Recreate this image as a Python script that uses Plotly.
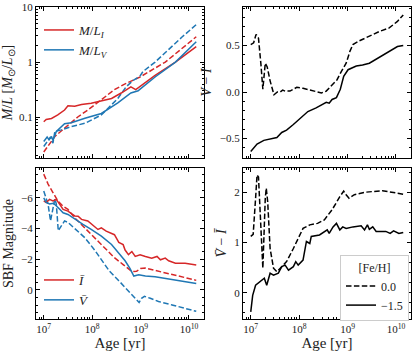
import numpy as np
import plotly.graph_objects as go

# ages are stored as log10(age / yr)

# top left: mass-to-light ratio
ml_i_fe15_age = [7.0, 7.05, 7.16, 7.29, 7.43, 7.50, 7.64, 7.78, 7.98, 8.19, 8.40, 8.60,
                 8.80, 8.90, 8.99, 9.30, 9.72, 10.15]
ml_i_fe15 = [0.083, 0.091, 0.095, 0.110, 0.135, 0.162, 0.158, 0.170, 0.180, 0.200, 0.219,
             0.275, 0.355, 0.316, 0.363, 0.575, 1.00, 1.91]
ml_v_fe15_age = [7.0, 7.07, 7.11, 7.16, 7.19, 7.26, 7.43, 7.57, 7.85, 8.19, 8.53, 8.80,
                 8.95, 8.99, 9.30, 9.72, 10.15]
ml_v_fe15 = [0.0363, 0.0437, 0.0389, 0.0447, 0.038, 0.055, 0.0759, 0.0794, 0.0955, 0.117,
             0.182, 0.275, 0.302, 0.324, 0.537, 1.00, 2.34]
ml_i_fe00_age = [7.0, 7.09, 7.23, 7.36, 7.50, 7.71, 7.91, 8.19, 8.46, 8.67, 8.85, 8.99,
                 9.51, 10.15]
ml_i_fe00 = [0.0234, 0.0302, 0.0447, 0.0562, 0.0724, 0.102, 0.135, 0.207, 0.316, 0.398,
             0.479, 0.537, 1.00, 2.88]
ml_v_fe00_age = [7.0, 7.09, 7.14, 7.19, 7.23, 7.36, 7.57, 7.85, 8.19, 8.53, 8.70, 8.85,
                 8.99, 9.05, 9.30, 9.85, 10.15]
ml_v_fe00 = [0.0295, 0.0389, 0.0437, 0.0339, 0.055, 0.0589, 0.0676, 0.0776, 0.110, 0.219,
             0.355, 0.468, 0.562, 0.676, 1.00, 2.82, 4.79]

# top right: V - I colour
vi_fe00_age = [7.0, 7.06, 7.11, 7.16, 7.21, 7.25, 7.30, 7.34, 7.40, 7.48, 7.55, 7.61, 7.66,
               7.71, 7.81, 7.95, 8.08, 8.22, 8.35, 8.46, 8.56, 8.68, 8.78, 8.87, 8.97, 9.05,
               9.11, 9.24, 9.45, 9.65, 9.86, 10.03, 10.15]
vi_fe00 = [0.51, 0.53, 0.62, 0.58, 0.30, 0.03, 0.31, 0.27, 0.12, -0.03, 0.0, 0.0, 0.02,
           0.01, 0.01, 0.05, 0.04, 0.02, 0.0, -0.01, 0.01, 0.07, 0.13, 0.22, 0.31, 0.44,
           0.51, 0.55, 0.60, 0.65, 0.69, 0.76, 0.83]
vi_fe15_age = [7.0, 7.13, 7.27, 7.37, 7.43, 7.54, 7.64, 7.74, 7.88, 8.01, 8.18, 8.35, 8.56,
               8.62, 8.68, 8.77, 8.85, 8.92, 9.01, 9.18, 9.31, 9.45, 9.65, 9.86, 10.03, 10.15]
vi_fe15 = [-0.64, -0.56, -0.52, -0.51, -0.50, -0.49, -0.435, -0.41, -0.35, -0.29, -0.21,
           -0.17, -0.11, -0.12, -0.08, -0.06, 0.03, 0.17, 0.24, 0.28, 0.29, 0.31, 0.37,
           0.44, 0.49, 0.50]

# bottom left: SBF magnitudes
sbf_i_fe00_age = [7.0, 7.09, 7.19, 7.29, 7.40, 7.50, 7.64, 7.85, 8.05, 8.26, 8.46, 8.64,
                  8.82, 8.92, 9.0, 9.10, 9.37, 9.65, 9.92, 10.15]
sbf_i_fe00 = [-7.55, -6.9, -6.35, -5.8, -5.45, -5.25, -4.7, -4.05, -3.4, -2.75, -2.1, -1.65,
              -1.2, -1.22, -1.4, -1.42, -1.2, -0.98, -0.80, -0.62]
sbf_i_fe15_age = [7.0, 7.05, 7.12, 7.19, 7.26, 7.33, 7.40, 7.50, 7.64, 7.71, 7.78, 7.91,
                  8.05, 8.12, 8.19, 8.29, 8.46, 8.55, 8.64, 8.68, 8.75, 8.82, 8.89, 8.99,
                  9.10, 9.23, 9.34, 9.41, 9.51, 9.58, 9.72, 9.92, 10.15]
sbf_i_fe15 = [-5.8, -5.7, -5.9, -5.8, -5.9, -5.58, -5.25, -5.14, -4.82, -4.8, -4.6, -4.49,
              -4.16, -3.94, -4.05, -3.83, -3.6, -3.1, -2.95, -2.6, -2.3, -2.5, -2.18, -2.29,
              -2.18, -2.07, -2.18, -1.96, -2.07, -1.9, -1.74, -1.74, -1.63]
sbf_v_fe15_age = [7.0, 7.05, 7.12, 7.20, 7.30, 7.40, 7.50, 7.64, 7.81, 7.98, 8.19, 8.40,
                  8.55, 8.68, 8.78, 8.86, 8.96, 9.10, 9.30, 9.58, 9.92, 10.15]
sbf_v_fe15 = [-6.0, -5.7, -5.6, -5.65, -5.36, -5.03, -4.92, -4.6, -4.27, -3.94, -3.51, -2.96,
              -2.4, -1.9, -1.4, -0.9, -0.98, -0.9, -0.85, -0.7, -0.54, -0.42]
sbf_v_fe00_age = [7.0, 7.05, 7.09, 7.14, 7.19, 7.23, 7.26, 7.30, 7.36, 7.43, 7.50, 7.57,
                  7.64, 7.85, 8.05, 8.20, 8.35, 8.55, 8.70, 8.85, 8.97, 9.02, 9.08, 9.20,
                  9.37, 9.65, 9.92, 10.15]
sbf_v_fe00 = [-6.45, -6.0, -5.58, -4.5, -5.3, -5.95, -5.6, -3.85, -4.16, -4.5, -4.4, -4.2,
              -3.94, -3.4, -2.6, -1.9, -1.25, -0.6, -0.1, 0.4, 0.82, 0.55, 0.42, 0.55,
              0.76, 0.98, 1.2, 1.4]

# bottom right: fluctuation colour
fvi_fe00_age = [7.0, 7.05, 7.10, 7.13, 7.16, 7.21, 7.25, 7.30, 7.32, 7.35, 7.40, 7.47, 7.54,
                7.64, 7.74, 7.88, 8.01, 8.08, 8.22, 8.38, 8.52, 8.68, 8.84, 8.92, 8.97, 9.03,
                9.14, 9.38, 9.72, 10.0, 10.15]
fvi_fe00 = [1.12, 1.16, 1.88, 2.34, 2.30, 1.21, 0.49, 1.88, 2.08, 1.81, 0.88, 0.49, 0.42,
            0.52, 0.62, 0.88, 1.15, 1.28, 1.35, 1.38, 1.45, 1.65, 1.91, 2.02, 1.95, 1.88,
            1.95, 2.0, 2.03, 1.98, 1.96]
fvi_fe15_age = [7.0, 7.04, 7.10, 7.20, 7.28, 7.33, 7.40, 7.47, 7.57, 7.64, 7.71, 7.78, 7.88,
                7.93, 7.98, 8.08, 8.11, 8.15, 8.22, 8.25, 8.42, 8.52, 8.58, 8.62, 8.70, 8.77,
                8.84, 8.90, 8.97, 9.11, 9.28, 9.35, 9.41, 9.45, 9.52, 9.59, 9.79, 9.88, 9.95,
                10.06, 10.15]
fvi_fe15 = [-0.38, -0.05, 0.15, 0.22, 0.29, 0.15, 0.39, 0.35, 0.39, 0.52, 0.55, 0.45, 0.52,
            0.62, 0.55, 0.65, 0.82, 1.02, 0.98, 1.12, 1.15, 1.22, 1.25, 1.18, 1.31, 1.38,
            1.25, 1.31, 1.28, 1.31, 1.33, 1.25, 1.35, 1.26, 1.31, 1.22, 1.22, 1.18, 1.23,
            1.18, 1.2]

RED = "#d62728"
BLUE = "#1f77b4"
FONT = "Liberation Serif"
DASH = "5.5px,2.4px"

fig = go.Figure()


def add_line(age, values, color, dash, panel, name=None, legend="legend"):
    fig.add_trace(
        go.Scatter(
            x=10 ** np.array(age),
            y=values,
            mode="lines",
            line={"color": color, "width": 1.5, "dash": dash},
            xaxis="x" + panel,
            yaxis="y" + panel,
            name=name,
            showlegend=name is not None,
            legend=legend,
        )
    )


add_line(ml_i_fe00_age, ml_i_fe00, RED, DASH, "")
add_line(ml_v_fe00_age, ml_v_fe00, BLUE, DASH, "")
add_line(ml_i_fe15_age, ml_i_fe15, RED, "solid", "", "<i>M</i>/<i>L<sub>I</sub></i>")
add_line(ml_v_fe15_age, ml_v_fe15, BLUE, "solid", "", "<i>M</i>/<i>L<sub>V</sub></i>")

add_line(vi_fe00_age, vi_fe00, "black", DASH, "2")
add_line(vi_fe15_age, vi_fe15, "black", "solid", "2")

add_line(sbf_i_fe00_age, sbf_i_fe00, RED, DASH, "3")
add_line(sbf_v_fe00_age, sbf_v_fe00, BLUE, DASH, "3")
add_line(sbf_i_fe15_age, sbf_i_fe15, RED, "solid", "3", "<i>Ī</i>", "legend2")
add_line(sbf_v_fe15_age, sbf_v_fe15, BLUE, "solid", "3", "<i>V̄</i>", "legend2")

add_line(fvi_fe00_age, fvi_fe00, "black", DASH, "4", "0.0", "legend3")
add_line(fvi_fe15_age, fvi_fe15, "black", "solid", "4", "−1.5", "legend3")

W, H = 415, 356
left_dom = [36 / W, 204 / W]
right_dom = [243 / W, 411 / W]
top_dom = [1 - 158 / H, 1 - 7 / H]
bot_dom = [1 - 319 / H, 1 - 168 / H]

decades = [1e7, 1e8, 1e9, 1e10]
minor_age = [k * 10.0 ** e for e in range(6, 11) for k in range(2, 10)]
minor_ml = [k * 10.0 ** e for e in range(-2, 1) for k in range(2, 10)]

frame = dict(
    showline=True, linecolor="black", linewidth=1, mirror="ticks",
    ticks="inside", ticklen=4, tickcolor="black", tickwidth=0.8,
    showgrid=False, zeroline=False, automargin=False,
    tickfont=dict(family=FONT, size=11, color="#222222"),
)


def age_axis(domain, anchor, labels):
    return dict(
        frame, type="log", domain=domain, anchor=anchor, range=[6.84, 10.31],
        tickvals=decades,
        ticktext=["10<sup>%d</sup>" % e for e in range(7, 11)] if labels else ["", "", "", ""],
        minor=dict(tickvals=minor_age, ticks="inside", ticklen=2, tickcolor="black"),
        title=dict(text="Age [yr]" if labels else "",
                   font=dict(family=FONT, size=15, color="#222222"), standoff=2),
    )


title_font = dict(family=FONT, size=14, color="#222222")

fig.update_layout(
    width=W, height=H,
    margin=dict(l=0, r=0, t=0, b=0),
    paper_bgcolor="white", plot_bgcolor="white",
    font=dict(family=FONT, color="#222222"),
    xaxis=age_axis(left_dom, "y", False),
    xaxis2=age_axis(right_dom, "y2", False),
    xaxis3=age_axis(left_dom, "y3", True),
    xaxis4=age_axis(right_dom, "y4", True),
    yaxis=dict(
        frame, type="log", domain=top_dom, anchor="x", range=[-1.74, 1.0],
        tickvals=[0.1, 1, 10], ticktext=["0.1", "1", "10"],
        minor=dict(tickvals=minor_ml, ticks="inside", ticklen=2, tickcolor="black"),
        title=dict(text="<i>M</i>/<i>L</i> [<i>M</i><sub>⊙</sub>/<i>L</i><sub>⊙</sub>]",
                   font=title_font, standoff=4),
    ),
    yaxis2=dict(
        frame, domain=top_dom, anchor="x2", range=[-0.71, 0.915],
        tickvals=[-0.5, 0.0, 0.5], ticktext=["−0.5", "0.0", "0.5"],
        minor=dict(dtick=0.1, ticks="inside", ticklen=2, tickcolor="black"),
        title=dict(text="<i>V</i> − <i>I</i>", font=title_font, standoff=4),
    ),
    yaxis3=dict(
        frame, domain=bot_dom, anchor="x3", range=[1.9, -7.95],
        tickvals=[-6, -4, -2, 0],
        minor=dict(dtick=0.5, ticks="inside", ticklen=2, tickcolor="black"),
        title=dict(text="SBF Magnitude", font=title_font, standoff=4),
    ),
    yaxis4=dict(
        frame, domain=bot_dom, anchor="x4", range=[-0.52, 2.48],
        tickvals=[0, 1, 2],
        minor=dict(dtick=0.2, ticks="inside", ticklen=2, tickcolor="black"),
        title=dict(text="<i>V̄</i> − <i>Ī</i>", font=title_font, standoff=4),
    ),
    legend=dict(x=39 / W, y=1 - 15 / H, xanchor="left", yanchor="top",
                bgcolor="rgba(0,0,0,0)", font=dict(family=FONT, size=13),
                itemwidth=30, tracegroupgap=0),
    legend2=dict(x=39 / W, y=1 - 265 / H, xanchor="left", yanchor="top",
                 bgcolor="rgba(0,0,0,0)", font=dict(family=FONT, size=13),
                 itemwidth=30),
    legend3=dict(x=340 / W, y=1 - 255 / H, xanchor="left", yanchor="top",
                 bgcolor="white", bordercolor="#cccccc", borderwidth=1,
                 font=dict(family=FONT, size=12),
                 title=dict(text="[Fe/H]", side="top center",
                            font=dict(family=FONT, size=12, weight="normal")),
                 itemwidth=30),
)

fig.write_html("out.html", config={"displayModeBar": False},
               post_script="document.body.style.margin='0';")
